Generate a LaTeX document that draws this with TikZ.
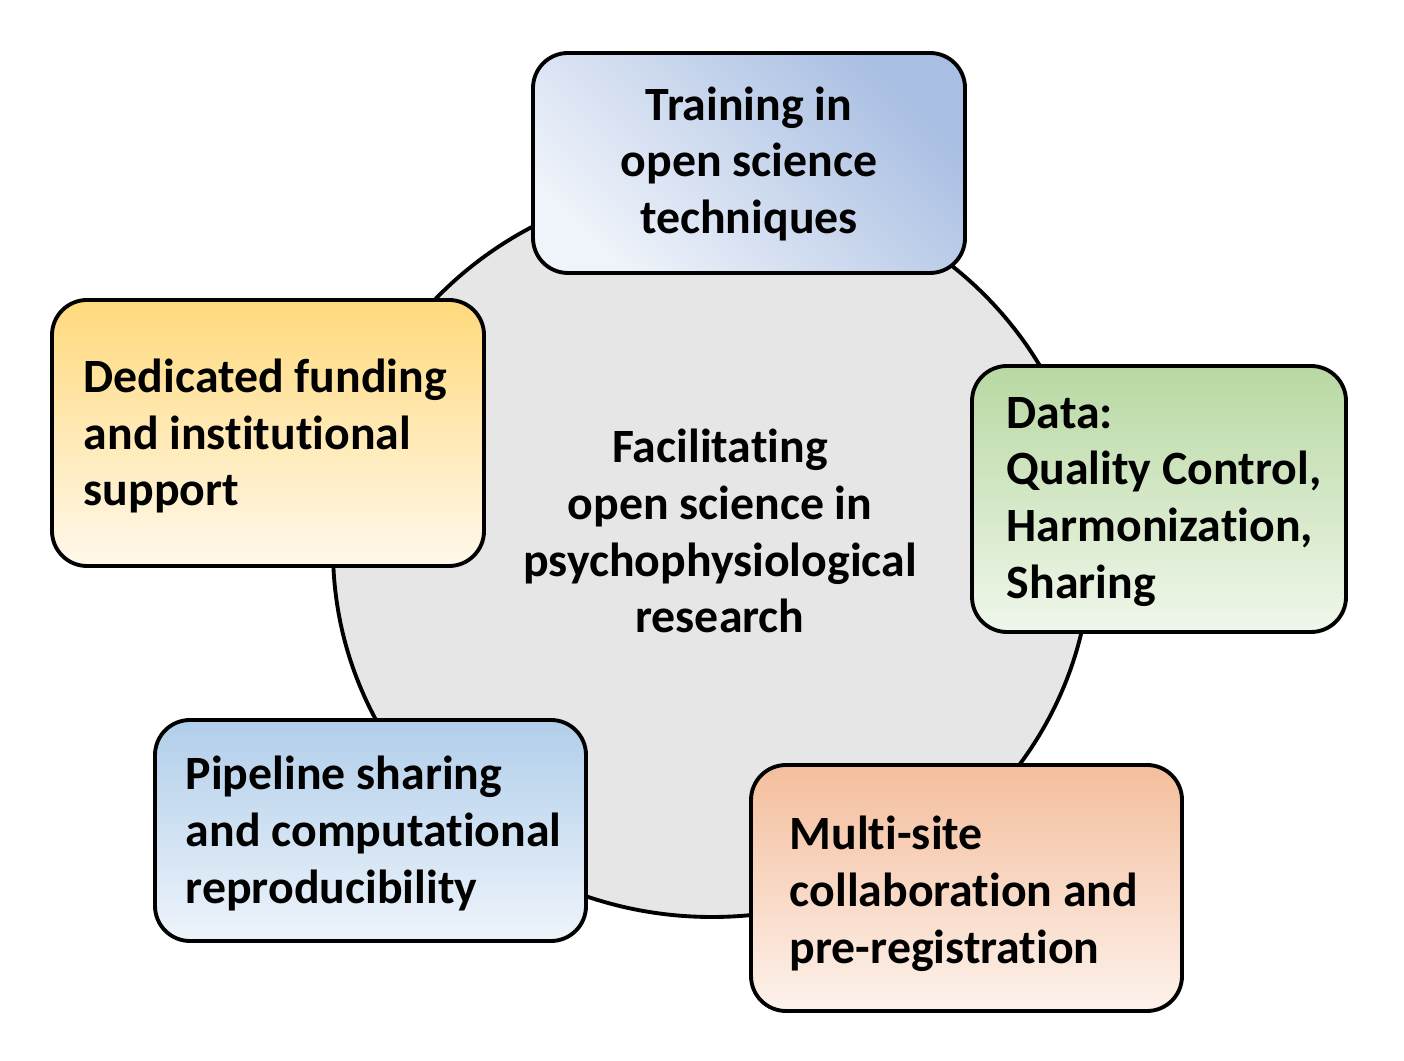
\documentclass[tikz,border=0pt]{standalone}
\usepackage{fontspec}
\setmainfont{Carlito}[Ligatures=NoCommon]
\usetikzlibrary{positioning,shapes.geometric}

% colours of the boxes
\definecolor{hubgrey}{HTML}{E6E6E6}
\definecolor{traindark}{HTML}{A8BEE2}
\definecolor{trainlight}{HTML}{EFF3FA}
\definecolor{funddark}{HTML}{FFD97C}
\definecolor{fundlight}{HTML}{FFF9EC}
\definecolor{datadark}{HTML}{B8D8A2}
\definecolor{datalight}{HTML}{F0F7EB}
\definecolor{pipedark}{HTML}{B1CEEA}
\definecolor{pipelight}{HTML}{EEF4FB}
\definecolor{multidark}{HTML}{F4BE9C}
\definecolor{multilight}{HTML}{FDF2EC}

\tikzset{
  topic/.style={draw=black, line width=1.1pt, rounded corners=0.35cm, inner sep=0pt},
  topictext/.style={inner sep=0pt, align=left, yshift=-0.03cm, font=\fontsize{13.6}{16.2}\selectfont\bfseries},
  hub/.style={ellipse, draw=black, line width=1.1pt, fill=hubgrey, inner sep=0pt}
}

\begin{document}
\begin{tikzpicture}
\useasboundingbox (0,0) rectangle (14.04,10.60);

% to draw the central circle
\node [hub, minimum width=7.58cm, minimum height=7.34cm] (hub) at (7.12,5.10) {};
\node [topictext, align=center] (hubtxt) at (7.20,5.32)
  {Facilitating\\open science in\\psychophysiological\\research};

% to draw the five boxes
\node [topic, minimum width=4.32cm, minimum height=2.20cm,
       top color=traindark, bottom color=trainlight, shading angle=-45] (train) at (7.49,8.97) {};
\node [topic, minimum width=4.32cm, minimum height=2.66cm,
       top color=funddark, bottom color=fundlight] (fund) at (2.68,6.27) {};
\node [topic, minimum width=3.74cm, minimum height=2.66cm,
       top color=datadark, bottom color=datalight] (data) at (11.59,5.61) {};
\node [topic, minimum width=4.31cm, minimum height=2.21cm,
       top color=pipedark, bottom color=pipelight] (pipe) at (3.705,2.295) {};
\node [topic, minimum width=4.31cm, minimum height=2.46cm,
       top color=multidark, bottom color=multilight] (multi) at (9.665,1.72) {};

% to write the texts of the boxes
\node [topictext, align=center] (traintxt) at ([yshift=0.02cm]train.center)
  {Training in\\open science\\techniques};
\node [topictext, right=0.33cm of fund.west] (fundtxt)
  {Dedicated funding\\and institutional\\support};
\node [topictext, right=0.36cm of data.west] (datatxt)
  {Data:\\Quality Control,\\Harmonization,\\Sharing};
\node [topictext, right=0.32cm of pipe.west] (pipetxt)
  {Pipeline sharing\\and computational\\reproducibility};
\node [topictext, right=0.40cm of multi.west, yshift=-0.03cm] (multitxt)
  {Multi-site\\collaboration and\\pre-registration};
\end{tikzpicture}
\end{document}
